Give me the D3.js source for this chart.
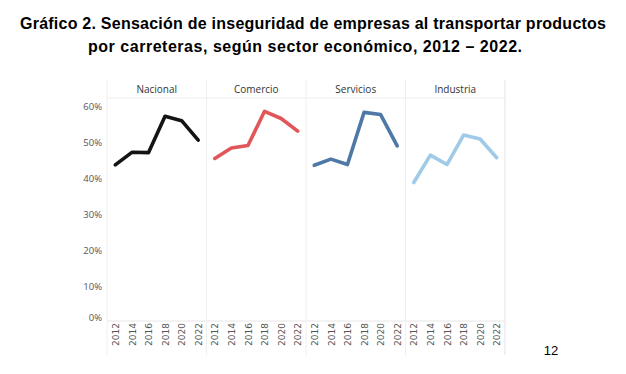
<!DOCTYPE html>
<html>
<head>
<meta charset="utf-8">
<script src="https://cdn.jsdelivr.net/npm/d3@7"></script>
<style>
  body { margin: 0; background: #fff; }
  svg { display: block; }
</style>
</head>
<body>
<script>
// datos del gráfico
var years = ["2012", "2014", "2016", "2018", "2020", "2022"];
var sectors = ["Nacional", "Comercio", "Servicios", "Industria"];
var nacional = [43.4, 46.9, 46.8, 56.9, 55.7, 50.3];
var comercio = [45.2, 48.1, 48.8, 58.3, 56.3, 52.8];
var servicios = [43.3, 45.0, 43.5, 58.0, 57.4, 48.7];
var industria = [38.5, 46.1, 43.5, 51.7, 50.6, 45.4];
var yTicks = [0, 10, 20, 30, 40, 50, 60];
var colors = ["#141414", "#e15759", "#4e79a7", "#a0cbe8"];

var series = [nacional, comercio, servicios, industria];

var width = 626,
    height = 374;

var left = 107,
    panelW = 99.5,
    headTop = 80,
    headBot = 98,
    plotBot = 321,
    axisBot = 355;

var svg = d3.select("body").append("svg")
    .attr("width", width)
    .attr("height", height);

// título
var title = svg.append("text")
    .attr("text-anchor", "middle")
    .style("font-family", "Liberation Sans, Arial, sans-serif")
    .style("font-weight", "bold")
    .style("font-size", "16px")
    .attr("fill", "#000");
title.append("tspan").attr("x", 313).attr("y", 29)
    .attr("textLength", 586).attr("lengthAdjust", "spacing")
    .text("Gráfico 2. Sensación de inseguridad de empresas al transportar productos");
title.append("tspan").attr("x", 305).attr("y", 52)
    .attr("textLength", 434).attr("lengthAdjust", "spacing")
    .text("por carreteras, según sector económico, 2012 – 2022.");

var panel = d3.scaleBand()
    .domain(sectors)
    .range([left, left + panelW * sectors.length]);

var x = d3.scalePoint()
    .domain(years)
    .range([0, panelW])
    .padding(0.5);

var y = d3.scaleLinear()
    .domain([0, 62])
    .range([plotBot, headBot]);

// eje y
var yAxis = d3.axisLeft(y)
    .tickValues(yTicks)
    .tickSize(0)
    .tickPadding(5)
    .tickFormat(function (d) { return d + "%"; });

var gy = svg.append("g")
    .attr("transform", "translate(" + left + ",0)")
    .call(yAxis);
gy.select(".domain").remove();
gy.selectAll("text")
    .style("font-family", "Open Sans, sans-serif")
    .style("font-size", "9.5px")
    .attr("fill", "#555")
    .attr("dy", function (d) { return d == 0 ? "-0.1em" : "0.45em"; });

var grid = "#e6e6e6";

// encabezados
svg.append("line")
    .attr("x1", left).attr("x2", left + panelW * 4)
    .attr("y1", headBot).attr("y2", headBot)
    .attr("stroke", "#eeeeee");
svg.append("line")
    .attr("x1", left).attr("x2", left + panelW * 4)
    .attr("y1", plotBot).attr("y2", plotBot)
    .attr("stroke", grid);
svg.append("line")
    .attr("x1", left).attr("x2", left)
    .attr("y1", headTop).attr("y2", axisBot)
    .attr("stroke", "#f0f0f0");

var p = svg.selectAll(".panel")
    .data(sectors)
    .enter().append("g")
    .attr("class", "panel")
    .attr("transform", function (d) { return "translate(" + panel(d) + ",0)"; });

p.append("line")
    .attr("x1", panelW).attr("x2", panelW)
    .attr("y1", headTop).attr("y2", axisBot)
    .attr("stroke", function (d, i) { return i == 3 ? "#e3e3e3" : "#efefef"; });

p.append("text")
    .attr("x", panelW / 2)
    .attr("y", 93)
    .attr("text-anchor", "middle")
    .style("font-family", "Open Sans, sans-serif")
    .style("font-size", "10px")
    .attr("fill", "#333")
    .text(function (d) { return d; });

// eje x por panel
p.each(function () {
    var g = d3.select(this).append("g")
        .attr("transform", "translate(0," + plotBot + ")")
        .call(d3.axisBottom(x).tickSize(0).tickPadding(0));
    g.select(".domain").remove();
    g.selectAll("text")
        .attr("transform", "rotate(-90)")
        .attr("x", -2)
        .attr("y", 0)
        .attr("dy", "0.35em")
        .attr("text-anchor", "end")
        .style("font-family", "DejaVu Sans, sans-serif")
        .style("font-size", "9px")
        .attr("fill", "#555");
});

// líneas
var line = d3.line()
    .x(function (d, i) { return x(years[i]); })
    .y(function (d) { return y(d); });

p.append("path")
    .attr("d", function (d, i) { return line(series[i]); })
    .attr("fill", "none")
    .attr("stroke", function (d, i) { return colors[i]; })
    .attr("stroke-width", 3.6)
    .attr("stroke-linejoin", "round")
    .attr("stroke-linecap", "round");

// número de página
svg.append("text")
    .attr("x", 551)
    .attr("y", 355)
    .attr("text-anchor", "middle")
    .style("font-family", "Liberation Sans, Arial, sans-serif")
    .style("font-size", "13px")
    .attr("fill", "#000")
    .text("12");
</script>
</body>
</html>
